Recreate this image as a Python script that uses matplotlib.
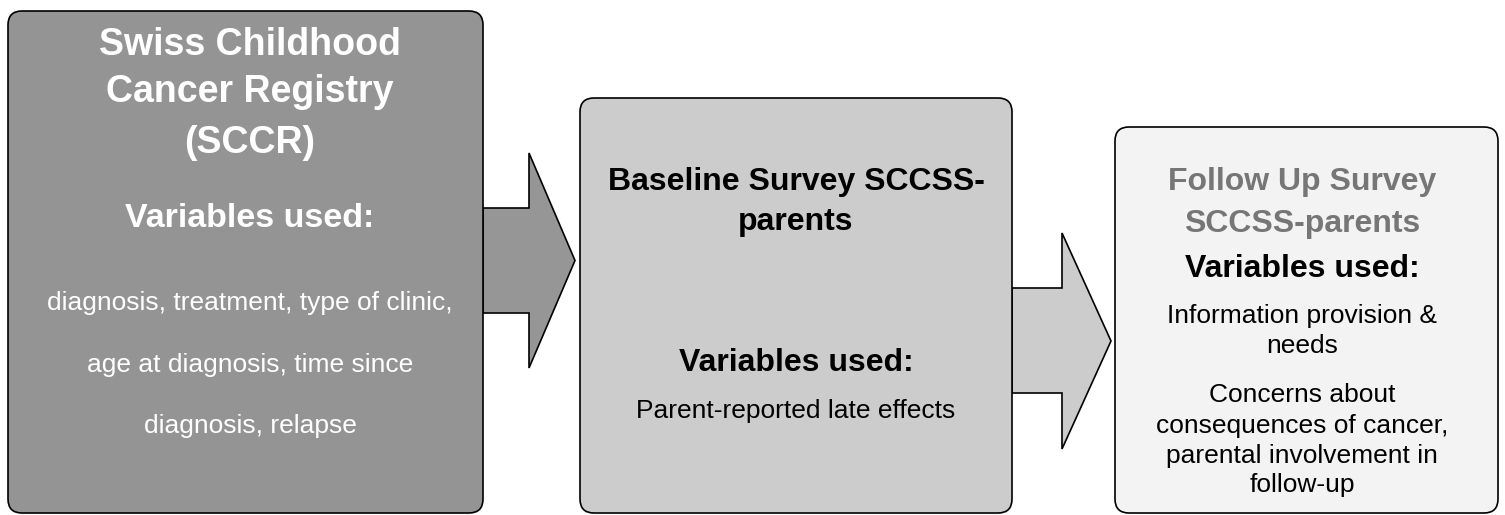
import matplotlib
matplotlib.use("Agg")
import matplotlib.pyplot as plt
from matplotlib.patches import FancyBboxPatch, Polygon

# text content of the three boxes
registry_title = ["Swiss Childhood", "Cancer Registry", "(SCCR)"]
registry_vars = ["diagnosis, treatment, type of clinic,",
                 "age at diagnosis, time since",
                 "diagnosis, relapse"]
baseline_title = ["Baseline Survey SCCSS-", "parents"]
baseline_vars = ["Parent-reported late effects"]
followup_title = ["Follow Up Survey", "SCCSS-parents"]
followup_vars = ["Information provision &", "needs",
                 "Concerns about", "consequences of cancer,",
                 "parental involvement in", "follow-up"]
subhead = "Variables used:"

plt.rcParams['font.family'] = ['Liberation Sans', 'DejaVu Sans']

fig = plt.figure(figsize=(15.05, 5.15), dpi=100)
ax = fig.add_axes([0, 0, 1, 1])
ax.set_xlim(0, 1505)
ax.set_ylim(515, 0)
ax.axis('off')

LW = 1.2


def box(x0, x1, y0, y1, color):
    p = FancyBboxPatch((x0, y0), x1 - x0, y1 - y0,
                       boxstyle="round,pad=0,rounding_size=14",
                       fc=color, ec='black', lw=LW, zorder=2)
    ax.add_patch(p)


def arrow(x0, hx, tip, sy0, sy1, hy0, hy1, color):
    ty = (hy0 + hy1) / 2
    pts = [(x0, sy0), (hx, sy0), (hx, hy0), (tip, ty),
           (hx, hy1), (hx, sy1), (x0, sy1)]
    ax.add_patch(Polygon(pts, closed=True, fc=color, ec='black',
                         lw=LW, zorder=1, joinstyle='miter'))


def lines(texts, x, ys, size, color='black', weight='normal'):
    for t, y in zip(texts, ys):
        ax.text(x, y, t, ha='center', va='baseline', fontsize=size,
                color=color, fontweight=weight, zorder=3)


# boxes
box(8, 483, 11, 513, '#949494')
box(580, 1012, 98, 513, '#cccccc')
box(1115, 1498, 127, 513, '#f3f3f3')

# arrows
arrow(483, 529, 575, 208, 313, 153, 368, '#969696')
arrow(1012, 1062, 1111, 288, 393, 233, 449, '#cccccc')

# box 1
cx = 250
lines(registry_title, cx, [55, 102, 153], 27, 'white', 'bold')
lines([subhead], cx, [227], 24.5, 'white', 'bold')
lines(registry_vars, cx, [310, 372, 433], 19, 'white')

# box 2
cx = 796
lines(baseline_title, cx, [190, 230], 23, 'black', 'bold')
lines([subhead], cx, [371], 23, 'black', 'bold')
lines(baseline_vars, cx, [418], 19, 'black')

# box 3
cx = 1302
lines(followup_title, cx, [190, 232], 23, '#767676', 'bold')
lines([subhead], cx, [277], 23, 'black', 'bold')
lines(followup_vars, cx, [323, 353, 402, 433, 463, 492], 19, 'black')

fig.savefig('out.png', dpi=100)
